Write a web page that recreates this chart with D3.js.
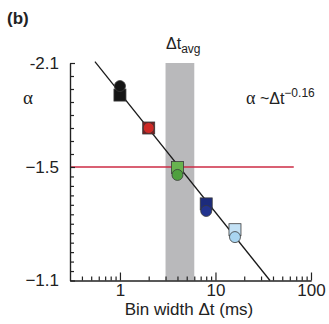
<!DOCTYPE html>
<html>
<head>
<meta charset="utf-8">
<script src="https://d3js.org/d3.v7.min.js"></script>
<style>
  body { margin: 0; background: #fff; }
  text { font-family: "Liberation Sans", Arial, sans-serif; fill: #222; }
</style>
</head>
<body>
<div id="chart"></div>
<script>
// bin widths (ms) and the exponents
var binWidths = [1, 2, 4, 8, 16];
var alphaSquares = [-1.915, -1.725, -1.498, -1.370, -1.279];
var alphaCircles = [-1.967, -1.725, -1.472, -1.345, -1.253];
var squareColors = ["#151515", "#7e1b1d", "#68b34f", "#1c2b7c", "#c3e1f5"];
var circleColors = ["#151515", "#cf2a26", "#4fa03e", "#22338f", "#a9d5f1"];

// power-law fit, alpha ~ dt^-0.16
var fitDt = [0.547, 37.2];
var fitAlpha = [-2.108, -1.1];

// reference line at alpha = -1.5 and the dt_avg band
var refDt = [0.3, 66];
var refAlpha = -1.5;
var bandDt = [3, 6];
var bandAlpha = [-2.1, -1.1];

// axis ticks
var xDomain = [0.3, 100];
var xMajorTicks = [1, 10, 100];
var xMajorLabels = ["1", "10", "100"];
var xMinorTicks = [0.4, 0.5, 0.6, 0.7, 0.8, 0.9, 2, 3, 4, 5, 6, 7, 8, 9,
                   20, 30, 40, 50, 60, 70, 80, 90];
var yMajorTicks = [-2.1, -1.5, -1.1];
var yTickLabels = ["-2.1", "\u22121.5", "\u22121.1"];
var yMinorTicks = [-2.025, -1.95, -1.875, -1.8, -1.725, -1.65, -1.575,
                   -1.4667, -1.4333, -1.4, -1.3667, -1.3333, -1.3, -1.2667,
                   -1.2333, -1.2, -1.1667, -1.1333];

var svgWidth = 329;
var svgHeight = 324;

var margin = { top: 63, right: 18, bottom: 43.5, left: 70 };
var chartWidth = svgWidth - margin.left - margin.right;
var chartHeight = svgHeight - margin.top - margin.bottom;

var svg = d3.select("#chart").append("svg")
    .attr("width", svgWidth)
    .attr("height", svgHeight);

var chartGroup = svg.append("g")
    .attr("transform", `translate(${margin.left}, ${margin.top})`);

// scales - x is log, y axis of the figure is not evenly spaced,
// so it is piecewise linear through the labelled values
var xScale = d3.scaleLog()
    .domain(xDomain)
    .range([0, chartWidth]);

var yScale = d3.scaleLinear()
    .domain(yMajorTicks)
    .range([0, 104, chartHeight]);

// grey dt_avg band
chartGroup.append("rect")
    .attr("x", xScale(bandDt[0]))
    .attr("y", yScale(bandAlpha[0]))
    .attr("width", xScale(bandDt[1]) - xScale(bandDt[0]))
    .attr("height", yScale(bandAlpha[1]) - yScale(bandAlpha[0]))
    .attr("fill", "#b9b9bb");

// red reference line
chartGroup.append("line")
    .attr("x1", xScale(refDt[0]))
    .attr("x2", xScale(refDt[1]))
    .attr("y1", yScale(refAlpha))
    .attr("y2", yScale(refAlpha))
    .attr("stroke", "#cc2b45")
    .attr("stroke-width", 1.3);

// fit line
var fitLine = d3.line()
    .x(d => xScale(d[0]))
    .y(d => yScale(d[1]));

chartGroup.append("path")
    .datum(d3.zip(fitDt, fitAlpha))
    .attr("d", fitLine)
    .attr("fill", "none")
    .attr("stroke", "#1a1a1a")
    .attr("stroke-width", 1.3);

// markers - squares first, circles on top
var markerData = binWidths.map(function(d, i) {
  return { dt: d, sq: alphaSquares[i], ci: alphaCircles[i], sqColor: squareColors[i], ciColor: circleColors[i] };
});

chartGroup.selectAll(".sq")
    .data(markerData)
    .enter()
    .append("rect")
    .attr("class", "sq")
    .attr("x", d => xScale(d.dt) - 6)
    .attr("y", d => yScale(d.sq) - 6)
    .attr("width", 12)
    .attr("height", 12)
    .attr("fill", d => d.sqColor)
    .attr("stroke", "#3a3a3a")
    .attr("stroke-width", 0.8);

chartGroup.selectAll(".ci")
    .data(markerData)
    .enter()
    .append("circle")
    .attr("class", "ci")
    .attr("cx", d => xScale(d.dt))
    .attr("cy", d => yScale(d.ci))
    .attr("r", 5.5)
    .attr("fill", d => d.ciColor)
    .attr("stroke", "#3a3a3a")
    .attr("stroke-width", 0.8);

// axes, ticks pointing inward
var xMinorAxis = d3.axisBottom(xScale)
    .tickValues(xMinorTicks)
    .tickSize(-4)
    .tickSizeOuter(0)
    .tickFormat("");

var xMajorAxis = d3.axisBottom(xScale)
    .tickValues(xMajorTicks)
    .tickSize(-8)
    .tickSizeOuter(0)
    .tickPadding(3)
    .tickFormat((d, i) => xMajorLabels[i]);

var yMinorAxis = d3.axisLeft(yScale)
    .tickValues(yMinorTicks)
    .tickSize(-4)
    .tickSizeOuter(0)
    .tickFormat("");

var yMajorAxis = d3.axisLeft(yScale)
    .tickValues(yMajorTicks)
    .tickSize(-5)
    .tickSizeOuter(0)
    .tickPadding(11)
    .tickFormat((d, i) => yTickLabels[i]);

[xMinorAxis, xMajorAxis].forEach(function(ax) {
  chartGroup.append("g")
      .attr("class", "axis")
      .attr("transform", `translate(0, ${chartHeight})`)
      .call(ax);
});

[yMinorAxis, yMajorAxis].forEach(function(ax) {
  chartGroup.append("g")
      .attr("class", "axis")
      .call(ax);
});

chartGroup.selectAll(".axis path, .axis line")
    .attr("stroke", "#222")
    .attr("stroke-width", 1.2);

chartGroup.selectAll(".axis text")
    .attr("font-family", "'Liberation Sans', Arial, sans-serif")
    .attr("font-size", 17)
    .attr("fill", "#222");

// text labels
svg.append("text")
    .attr("x", 7)
    .attr("y", 24)
    .attr("font-size", 17)
    .attr("font-weight", "bold")
    .text("(b)");

svg.append("text")
    .attr("x", 189)
    .attr("y", 315)
    .attr("text-anchor", "middle")
    .attr("font-size", 17)
    .text("Bin width \u0394t (ms)");

svg.append("text")
    .attr("x", 23)
    .attr("y", 104)
    .style("font-family", "'Liberation Serif', serif")
    .attr("font-size", 19)
    .text("\u03b1");

var avgLabel = svg.append("text")
    .attr("x", 166)
    .attr("y", 49)
    .attr("font-size", 16);
avgLabel.append("tspan").text("\u0394t");
avgLabel.append("tspan")
    .attr("dy", 4)
    .attr("font-size", 12)
    .text("avg");

var powLabel = svg.append("text")
    .attr("x", 246)
    .attr("y", 104)
    .attr("font-size", 16);
powLabel.append("tspan")
    .style("font-family", "'Liberation Serif', serif")
    .attr("font-size", 18)
    .text("\u03b1");
powLabel.append("tspan").text(" ~\u0394t");
powLabel.append("tspan")
    .attr("dy", -7)
    .attr("font-size", 12)
    .text("\u22120.16");
</script>
</body>
</html>
